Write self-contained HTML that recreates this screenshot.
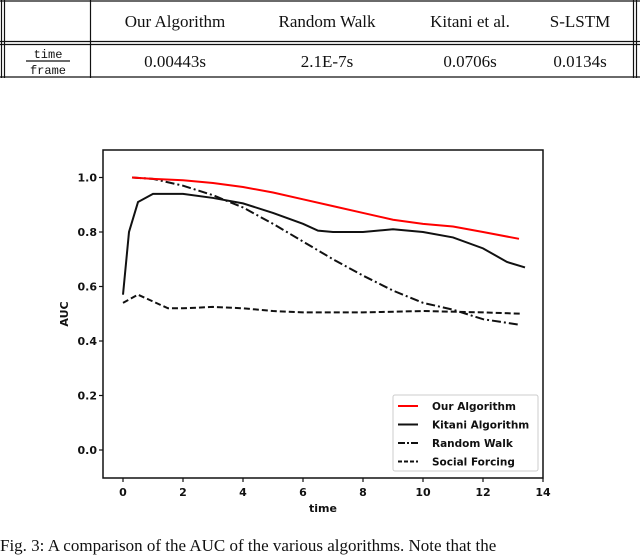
<!DOCTYPE html>
<html><head><meta charset="utf-8"><style>
body{margin:0;width:640px;height:544px;overflow:hidden;background:#fff;position:relative}
</style></head><body>
<div style="position:absolute;left:0;top:0;width:640px;height:80px">
<svg width="640" height="80" style="position:absolute;left:0;top:0">
<g stroke="#111" stroke-width="1.2">
<line x1="0" y1="1" x2="640" y2="1"/>
<line x1="0" y1="41.5" x2="640" y2="41.5"/><line x1="0" y1="44.5" x2="640" y2="44.5"/>
<line x1="0" y1="77" x2="640" y2="77"/>
<line x1="1.5" y1="0" x2="1.5" y2="78"/><line x1="4.5" y1="0" x2="4.5" y2="78"/>
<line x1="90.5" y1="0" x2="90.5" y2="78"/>
<line x1="633.5" y1="0" x2="633.5" y2="78"/><line x1="636.5" y1="0" x2="636.5" y2="78"/>
<line x1="26" y1="61" x2="70" y2="61"/>
</g>
<g font-family="Liberation Serif, serif" font-size="17" fill="#111" text-anchor="middle">
<text x="175" y="27">Our Algorithm</text>
<text x="327" y="27">Random Walk</text>
<text x="470" y="27">Kitani et al.</text>
<text x="580" y="27">S-LSTM</text>
<text x="175" y="67">0.00443s</text>
<text x="327" y="67">2.1E-7s</text>
<text x="470" y="67">0.0706s</text>
<text x="580" y="67">0.0134s</text>
</g>
<g font-family="Liberation Mono, monospace" font-size="12" fill="#111" text-anchor="middle">
<text x="48" y="58">time</text>
<text x="48" y="74">frame</text>
</g>
</svg>
</div>
<svg id="chart" width="640" height="544" style="position:absolute;left:0;top:0"></svg>
<div style="position:absolute;left:0;top:536px;font-family:'Liberation Serif',serif;font-size:17px;white-space:nowrap;color:#111">Fig. 3: A comparison of the AUC of the various algorithms. Note that the</div>
<script>
const xTicks=[0,2,4,6,8,10,12,14];
const yTicks=[0.0,0.2,0.4,0.6,0.8,1.0];
const ourT=[0.3,1,2,3,4,5,6,7,8,9,10,11,12,13.2];
const ourV=[1.0,0.995,0.99,0.98,0.965,0.945,0.92,0.895,0.87,0.845,0.83,0.82,0.80,0.775];
const kitT=[0,0.2,0.5,1,2,3,4,5,6,6.5,7,8,9,10,11,12,12.8,13.4];
const kitV=[0.57,0.8,0.91,0.94,0.94,0.925,0.905,0.87,0.83,0.805,0.80,0.80,0.81,0.80,0.78,0.74,0.69,0.67];
const rwT=[0.3,1,2,3,4,5,6,7,8,9,10,11,12,13.2];
const rwV=[1.0,0.995,0.97,0.935,0.89,0.83,0.765,0.70,0.64,0.585,0.54,0.515,0.48,0.46];
const sfT=[0,0.5,1,1.5,2,3,4,5,6,8,10,12,13.3];
const sfV=[0.54,0.57,0.545,0.52,0.52,0.525,0.52,0.51,0.505,0.505,0.51,0.505,0.50];
const NS="http://www.w3.org/2000/svg";
const svg=document.getElementById('chart');
const X=t=>123+t*30, Y=v=>450-v*272.5;
function mk(tag,attrs,parent){const e=document.createElementNS(NS,tag);for(const k in attrs)e.setAttribute(k,attrs[k]);(parent||svg).appendChild(e);return e;}
const font="DejaVu Sans, Liberation Sans, sans-serif";
const frame=mk('rect',{x:103,y:150,width:440,height:328,fill:'none',stroke:'#111','stroke-width':1.5});


xTicks.forEach(t=>{
 mk('line',{x1:X(t),x2:X(t),y1:478,y2:482,stroke:'#111','stroke-width':1.2});
 const tx=mk('text',{x:X(t),y:496,'font-family':font,'font-size':11,'font-weight':'bold','text-anchor':'middle',fill:'#111'});
 tx.textContent=t;
 
 
});
yTicks.forEach(v=>{
 mk('line',{x1:99,x2:103,y1:Y(v),y2:Y(v),stroke:'#111','stroke-width':1.2});
 const tx=mk('text',{x:97,y:Y(v)+4,'font-family':font,'font-size':11,'font-weight':'bold','text-anchor':'end',fill:'#111'});
 tx.textContent=v.toFixed(1);
 
 
});
const xl=mk('text',{x:323,y:512,'font-family':font,'font-size':11,'font-weight':'bold','text-anchor':'middle',fill:'#111'});
xl.textContent='time';


const yl=mk('text',{x:0,y:0,'font-family':font,'font-size':11,'font-weight':'bold','text-anchor':'middle',fill:'#111',transform:'translate(68,314) rotate(-90)'});
yl.textContent='AUC';


function line(ts,vs,color,dash,name){
 const p=mk('polyline',{points:ts.map((t,i)=>X(t)+','+Y(vs[i])).join(' '),fill:'none',stroke:color,'stroke-width':2,'stroke-dasharray':dash});
 
 
}
line(sfT,sfV,'#111','6,3','social-forcing-line');
line(rwT,rwV,'#111','9,3,2,3','random-walk-line');
line(kitT,kitV,'#111','none','kitani-line');
line(ourT,ourV,'#ff0000','none','our-algorithm-line');
const lg=mk('rect',{x:393,y:395,width:145,height:76,fill:'#fff',stroke:'#ccc','stroke-width':1,rx:2});


[['Our Algorithm','#ff0000','none'],['Kitani Algorithm','#111','none'],['Random Walk','#111','7,2,2,2'],['Social Forcing','#111','4,2']].forEach((e,i)=>{
 const y=406+i*18.5;
 mk('line',{x1:398,x2:418,y1:y,y2:y,stroke:e[1],'stroke-width':2,'stroke-dasharray':e[2]});
 const t=mk('text',{x:432,y:y+4,'font-family':font,'font-size':10.5,'font-weight':'bold',fill:'#111'});
 t.textContent=e[0];
 
 
});
</script>
</body></html>
